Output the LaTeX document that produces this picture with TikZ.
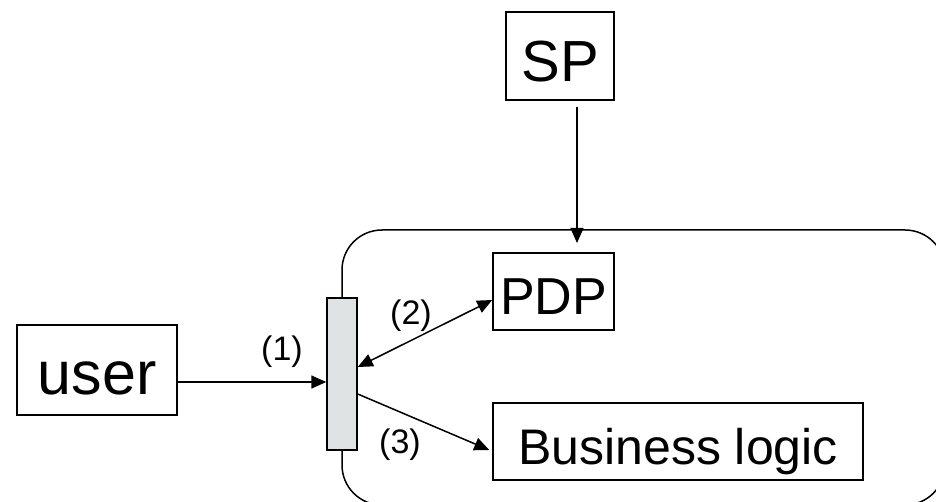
\documentclass[tikz,border=0pt]{standalone}
\usepackage{fontspec}
\setmainfont{Liberation Sans}
\usetikzlibrary{arrows.meta}
\definecolor{pepgrey}{RGB}{224,227,227}
\begin{document}
\begin{tikzpicture}[x=1pt,y=-1pt,
  box/.style={draw,line width=1.5pt,inner sep=0pt,text depth=0pt},
  conn/.style={line width=1.5pt,-{Triangle[length=15pt,width=13pt]}},
  dconn/.style={line width=1.5pt,{Triangle[length=15pt,width=13pt]}-{Triangle[length=15pt,width=13pt]}},
  num/.style={font=\fontsize{34}{38}\selectfont,inner sep=0pt,text height=24.8pt,text depth=7.1pt}]
\useasboundingbox (0,0) rectangle (936,502);

% application domain (runs off the right and bottom edges)
\begin{scope}
  \clip (0,0) rectangle (936,502);
  \node[draw,line width=1.5pt,rounded corners=40pt,minimum width=603pt,minimum height=275pt,inner sep=0pt]
    (domain) at (643.5,367.5) {};
\end{scope}

% components
\node[box,minimum width=160pt,minimum height=90pt,font=\fontsize{61}{70}\selectfont,text height=48pt]
  (user) at (97,370) {user};
\node[box,minimum width=108pt,minimum height=88pt,font=\fontsize{58}{66}\selectfont,text height=51.6pt]
  (sp) at (560,56) {SP};
\node[box,minimum width=121pt,minimum height=77pt,font=\fontsize{52}{60}\selectfont,text height=45pt]
  (pdp) at (553.5,291.5) {PDP};
\node[box,minimum width=370pt,minimum height=77pt,font=\fontsize{50}{58}\selectfont,text height=45.8pt]
  (bl) at (678,441.5) {Business logic};
\node[draw,line width=1.5pt,fill=pepgrey,minimum width=30pt,minimum height=152pt,inner sep=0pt]
  (pep) at (342,374) {};

% policy delivery
\coordinate (spin) at (577,243);
\draw[conn] ([yshift=-6pt]sp.south -| spin) -- (spin);

% request flow
\draw[conn] ([yshift=-12pt]user.east) -- ([yshift=-12pt]user.east -| pep.west);
\draw[dconn] ([yshift=7pt]pep.east) -- ([yshift=-8.5pt]pdp.west);
\draw[conn] ([yshift=-20pt]pep.east) -- ([yshift=-8.5pt,xshift=-3pt]bl.west);

% step labels
\node[num] (l1) at (282,352) {(1)};
\node[num] (l2) at (411,316) {(2)};
\node[num] (l3) at (400,445) {(3)};
\end{tikzpicture}
\end{document}
